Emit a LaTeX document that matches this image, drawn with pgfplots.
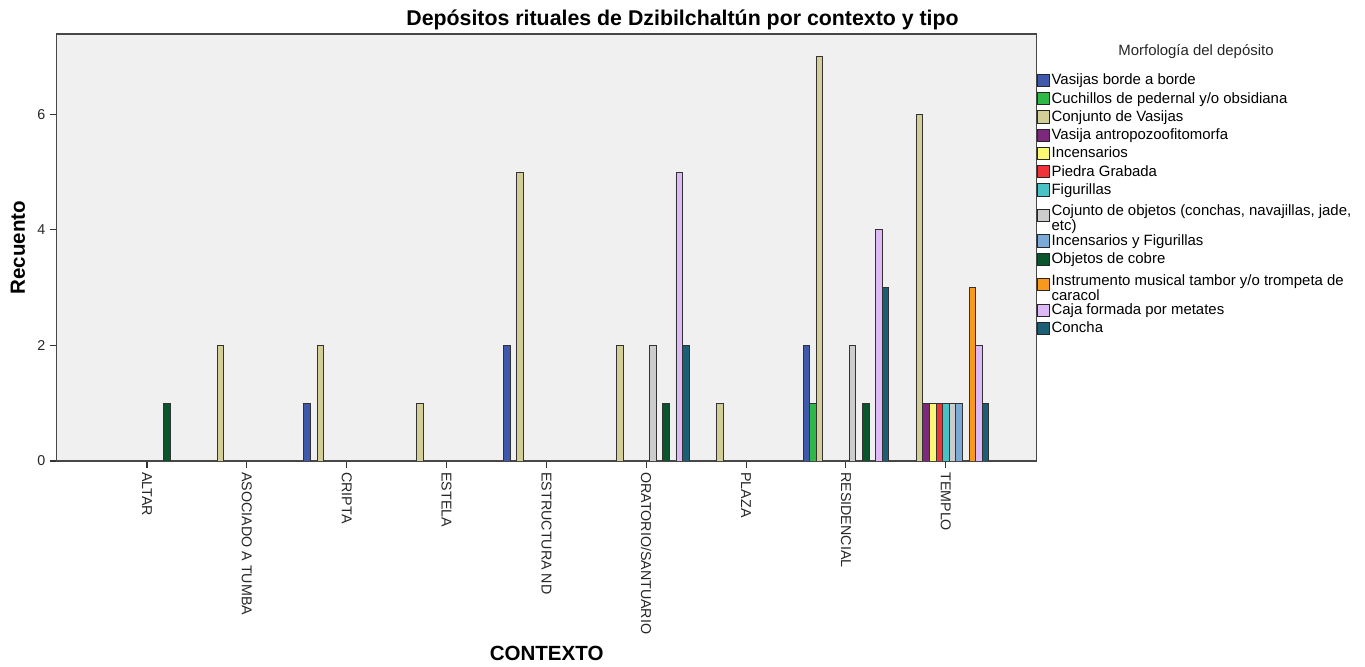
\documentclass[border=0pt]{standalone}
\usepackage{pgfplots}
\pgfplotsset{compat=1.18}
\usepackage{fontspec}
\setmainfont{Liberation Sans}
\definecolor{bgc}{HTML}{F0F0F0}
\definecolor{c0}{HTML}{3E58AC}
\definecolor{c1}{HTML}{2EB848}
\definecolor{c2}{HTML}{D3CE97}
\definecolor{c3}{HTML}{7C287D}
\definecolor{c4}{HTML}{FBF873}
\definecolor{c5}{HTML}{EF3338}
\definecolor{c6}{HTML}{48C2C5}
\definecolor{c7}{HTML}{CCCCCC}
\definecolor{c8}{HTML}{7AAAD5}
\definecolor{c9}{HTML}{0A562C}
\definecolor{c10}{HTML}{F8981D}
\definecolor{c11}{HTML}{DDB9F6}
\definecolor{c12}{HTML}{1A5F76}
\pgfplotsset{
  mybar/.style 2 args={ybar, bar width=4.95pt, bar shift=#2, fill=#1, draw=black!80, line width=0.6pt,
    legend image code/.code={\draw[fill=#1, draw=black!85, line width=0.6pt] (0pt,-4.6pt) rectangle (9.2pt,4.6pt);}},
}
\begin{document}
\begin{tikzpicture}
\useasboundingbox (0,0) rectangle (1023.75pt,500.25pt);
\begin{axis}[
  scale only axis, width=735pt, height=320.25pt,
  at={(42.5pt,154.5pt)}, anchor=south west,
  xmin=-0.905, xmax=8.91, ymin=0, ymax=7.39,
  xtick={0,1,2,3,4,5,6,7,8},
  xticklabels={ALTAR,ASOCIADO A TUMBA,CRIPTA,ESTELA,ESTRUCTURA ND,ORATORIO/SANTUARIO,PLAZA,RESIDENCIAL,TEMPLO},
  ytick={0,2,4,6},
  /pgf/number format/assume math mode=true,
  axis background/.style={fill=bgc},
  axis line style={draw=black!72, line width=1.1pt},
  tick style={draw=black!80, line width=0.8pt},
  tick align=outside, major tick length=5pt,
  xtick pos=bottom, ytick pos=left,
  x tick label style={rotate=-90, anchor=west, font=\fontsize{10.7}{12}\selectfont, text=black!85},
  y tick label style={font=\fontsize{10.7}{12}\selectfont, text=black!85},
  xlabel={\textbf{CONTEXTO}},
  xlabel style={at={(axis description cs:0.5,-0.45)}, anchor=center, font=\fontsize{15.4}{17}\selectfont},
  ylabel={\textbf{Recuento}},
  ylabel style={at={(axis description cs:-0.0395,0.5)}, anchor=center, font=\fontsize{15.4}{17}\selectfont},
  legend cell align=left,
  legend style={at={(1,0.9134)}, anchor=north west, draw=none, fill=none, inner sep=0pt,
    row sep=0pt, font=\fontsize{11.2}{10.5}\selectfont,
    nodes={inner xsep=1.2pt, inner ysep=0pt, minimum height=13.7pt}},
]
\addplot[mybar={c0}{-29.7pt}] coordinates {(2,1) (4,2) (7,2)};
\addlegendentry{Vasijas borde a borde}
\addplot[mybar={c1}{-24.75pt}] coordinates {(7,1)};
\addlegendentry{Cuchillos de pedernal y/o obsidiana}
\addplot[mybar={c2}{-19.8pt}] coordinates {(1,2) (2,2) (3,1) (4,5) (5,2) (6,1) (7,7) (8,6)};
\addlegendentry{Conjunto de Vasijas}
\addplot[mybar={c3}{-14.85pt}] coordinates {(8,1)};
\addlegendentry{Vasija antropozoofitomorfa}
\addplot[mybar={c4}{-9.9pt}] coordinates {(8,1)};
\addlegendentry{Incensarios}
\addplot[mybar={c5}{-4.95pt}] coordinates {(8,1)};
\addlegendentry{Piedra Grabada}
\addplot[mybar={c6}{0pt}] coordinates {(8,1)};
\addlegendentry{Figurillas}
\addplot[mybar={c7}{4.95pt}] coordinates {(5,2) (7,2) (8,1)};
\addlegendentry[minimum height=24.5pt]{\begin{tabular}{@{}l@{}}Cojunto de objetos (conchas, navajillas, jade,\\etc)\end{tabular}}
\addplot[mybar={c8}{9.9pt}] coordinates {(8,1)};
\addlegendentry{Incensarios y Figurillas}
\addplot[mybar={c9}{14.85pt}] coordinates {(0,1) (5,1) (7,1)};
\addlegendentry{Objetos de cobre}
\addplot[mybar={c10}{19.8pt}] coordinates {(8,3)};
\addlegendentry[minimum height=24.5pt]{\begin{tabular}{@{}l@{}}Instrumento musical tambor y/o trompeta de\\caracol\end{tabular}}
\addplot[mybar={c11}{24.75pt}] coordinates {(5,5) (7,4) (8,2)};
\addlegendentry{Caja formada por metates}
\addplot[mybar={c12}{29.7pt}] coordinates {(5,2) (7,3) (8,1)};
\addlegendentry{Concha}
\end{axis}
\node[font=\bfseries\fontsize{16}{18}\selectfont, anchor=center] at (511.9pt,485.25pt) {Depósitos rituales de Dzibilchaltún por contexto y tipo};
\node[font=\fontsize{11.2}{13}\selectfont, anchor=center, text=black!85] at (897pt,461.25pt) {Morfología del depósito};
\end{tikzpicture}
\end{document}
